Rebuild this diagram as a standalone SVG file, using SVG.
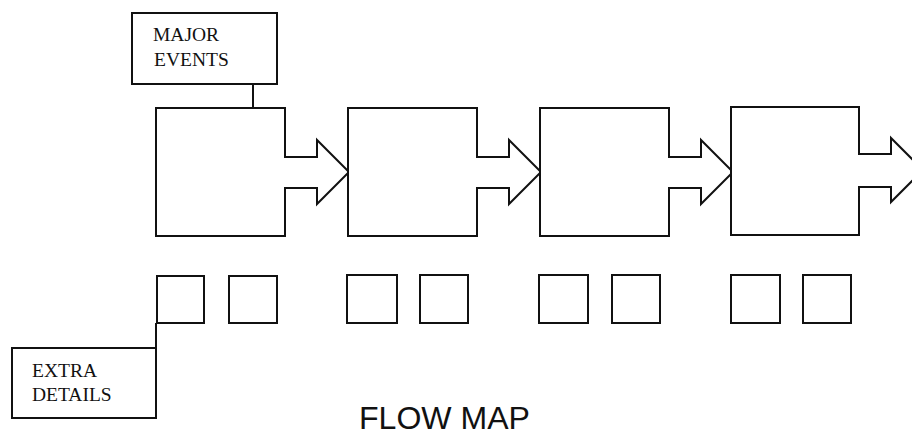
<svg xmlns="http://www.w3.org/2000/svg" width="912" height="436" viewBox="0 0 912 436">
<style>
.b{fill:#fff;stroke:#111;stroke-width:2;stroke-linejoin:miter}
.l{fill:none;stroke:#111;stroke-width:2}
.t{font-family:"Liberation Serif",serif;font-size:19.5px;fill:#111}
.h{font-family:"Liberation Sans",sans-serif;font-size:31px;fill:#111}
</style>
<rect width="912" height="436" fill="#fff"/>
<g id="connectors">
<line class="l" x1="253" y1="84" x2="253" y2="108"/>
<line class="l" x1="156" y1="323" x2="156" y2="348"/>
</g>
<g id="major-events">
<rect class="b" x="132" y="13" width="145" height="71"/>
<text class="t" x="153" y="41">MAJOR</text>
<text class="t" x="154" y="66">EVENTS</text>
</g>
<g id="event1"><path class="b" d="M156,108H285V157H317V140L349,172L317,204V188H285V236H156Z"/></g>
<g id="event2"><path class="b" d="M348,108H477V157H509V140L541,172L509,204V188H477V236H348Z"/></g>
<g id="event3"><path class="b" d="M540,108H669V157H701V140L733,172L701,204V188H669V236H540Z"/></g>
<g id="event4"><path class="b" d="M731,107H859V154H891V138L923,170L891,202V187H859V235H731Z"/></g>
<g id="d1a"><rect class="b" x="157" y="276" width="47" height="47"/></g>
<g id="d1b"><rect class="b" x="229" y="276" width="48" height="47"/></g>
<g id="d2a"><rect class="b" x="347" y="275" width="50" height="48"/></g>
<g id="d2b"><rect class="b" x="420" y="275" width="48" height="48"/></g>
<g id="d3a"><rect class="b" x="539" y="275" width="49" height="48"/></g>
<g id="d3b"><rect class="b" x="612" y="275" width="48" height="48"/></g>
<g id="d4a"><rect class="b" x="731" y="275" width="49" height="48"/></g>
<g id="d4b"><rect class="b" x="803" y="275" width="48" height="48"/></g>
<g id="extra-details">
<rect class="b" x="12" y="348" width="144" height="70"/>
<text class="t" x="32" y="377">EXTRA</text>
<text class="t" x="32" y="401">DETAILS</text>
</g>
<text class="h" x="359" y="429" textLength="171" lengthAdjust="spacingAndGlyphs">FLOW MAP</text>
</svg>
